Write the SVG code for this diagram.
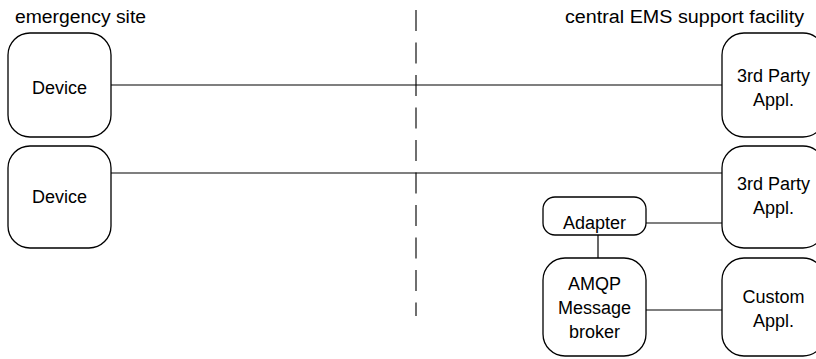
<svg xmlns="http://www.w3.org/2000/svg" width="816" height="359" viewBox="0 0 816 359">
  <style>
    .box { fill: #ffffff; stroke: #000000; stroke-width: 1.3; }
    .lbl { font-family: "Liberation Sans", Arial, sans-serif; font-size: 18px; fill: #000000; }
    .mid { text-anchor: middle; }
    .wire { stroke: #000000; stroke-width: 1.2; fill: none; }
    .divider { stroke: #404040; stroke-width: 1.5; stroke-dasharray: 21 11.5; fill: none; }
  </style>

  <!-- zone captions -->
  <text class="lbl" x="15" y="23" textLength="131" lengthAdjust="spacingAndGlyphs">emergency site</text>
  <text class="lbl" x="565" y="23" textLength="239" lengthAdjust="spacingAndGlyphs">central EMS support facility</text>

  <!-- dashed boundary between the two zones -->
  <line class="divider" x1="416" y1="10" x2="416" y2="316"/>

  <!-- connectors -->
  <g id="connectors">
    <line class="wire" x1="111" y1="85" x2="722" y2="85"/>
    <line class="wire" x1="111" y1="173" x2="722" y2="173"/>
    <line class="wire" x1="646" y1="223" x2="722" y2="223"/>
    <line class="wire" x1="598" y1="235" x2="598" y2="258"/>
    <line class="wire" x1="646" y1="310" x2="722" y2="310"/>
  </g>

  <g id="device1">
    <rect class="box" x="8" y="33" width="103" height="104" rx="22"/>
    <text class="lbl mid" x="59.5" y="94">Device</text>
  </g>

  <g id="device2">
    <rect class="box" x="8" y="146" width="103" height="102" rx="22"/>
    <text class="lbl mid" x="59.5" y="203">Device</text>
  </g>

  <g id="thirdparty1">
    <rect class="box" x="722" y="33" width="103" height="104" rx="22"/>
    <text class="lbl mid" x="773.5" y="82">3rd Party</text>
    <text class="lbl mid" x="773.5" y="106">Appl.</text>
  </g>

  <g id="thirdparty2">
    <rect class="box" x="722" y="146" width="103" height="102" rx="22"/>
    <text class="lbl mid" x="773.5" y="190">3rd Party</text>
    <text class="lbl mid" x="773.5" y="214">Appl.</text>
  </g>

  <g id="adapter">
    <rect class="box" x="543" y="197" width="103" height="38" rx="12"/>
    <text class="lbl mid" x="594.5" y="229">Adapter</text>
  </g>

  <g id="broker">
    <rect class="box" x="543" y="258" width="103" height="98" rx="22"/>
    <text class="lbl mid" x="594.5" y="290">AMQP</text>
    <text class="lbl mid" x="594.5" y="314">Message</text>
    <text class="lbl mid" x="594.5" y="338">broker</text>
  </g>

  <g id="custom">
    <rect class="box" x="722" y="258" width="103" height="98" rx="22"/>
    <text class="lbl mid" x="773.5" y="303">Custom</text>
    <text class="lbl mid" x="773.5" y="327">Appl.</text>
  </g>
</svg>
